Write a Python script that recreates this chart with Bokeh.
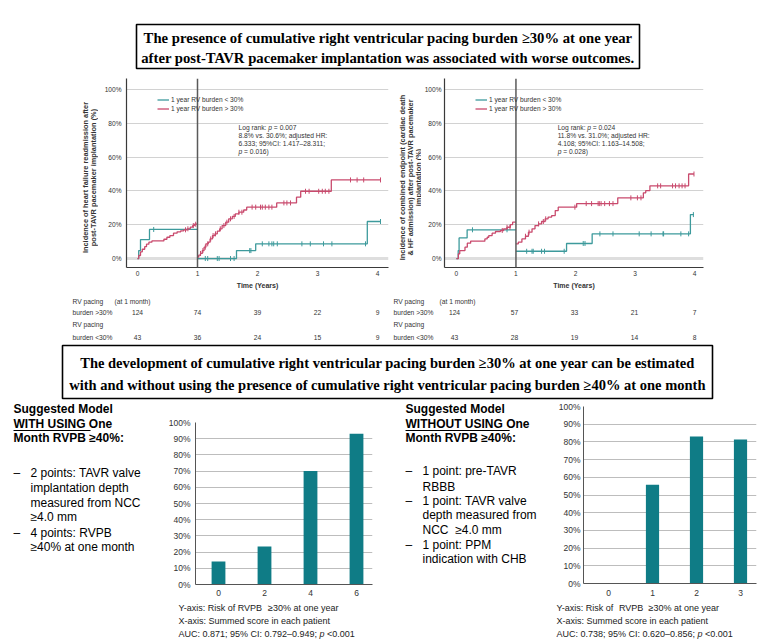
import numpy as np
from bokeh.plotting import figure
from bokeh.layouts import column, row
from bokeh.models import Range1d, Span, Legend, LegendItem, PrintfTickFormatter, FixedTicker
from bokeh.core.properties import value
from bokeh.embed import file_html
from bokeh.resources import INLINE

# ---------------- data ----------------
# Kaplan-Meier: heart failure readmission (left panel)
hf_lo1_t = [0.0, 0.02, 0.05, 0.20]
hf_lo1_v = [0.0, 4.7, 11.2, 17.2]
hf_lo1_c = [0.27]
hf_hi1_t = [0.0, 0.02, 0.05, 0.08, 0.12, 0.15, 0.19, 0.24, 0.44, 0.49, 0.54, 0.60, 0.66, 0.72, 0.77, 0.83, 0.88, 0.92, 0.95]
hf_hi1_v = [0.0, 1.8, 4.0, 5.5, 7.0, 8.5, 9.7, 10.4, 11.4, 12.6, 13.6, 15.0, 15.8, 16.4, 17.0, 17.6, 18.6, 19.5, 20.3]
hf_hi1_c = [0.80, 0.84, 0.93, 0.97]
hf_lo2_t = [1.0, 1.65, 1.97, 3.83]
hf_lo2_v = [0.0, 4.7, 8.7, 21.9]
hf_lo2_c = [1.13, 1.17, 1.33, 1.36, 1.55, 1.61, 1.87, 1.89, 2.08, 2.19, 2.24, 2.27, 2.33, 2.74, 2.88, 3.10, 3.24, 3.80, 4.05]
hf_hi2_t = [1.0, 1.02, 1.05, 1.08, 1.11, 1.14, 1.18, 1.21, 1.25, 1.29, 1.33, 1.37, 1.41, 1.47, 1.52, 1.58, 1.63, 1.69, 1.77, 1.82, 2.32, 2.65, 2.72, 3.23]
hf_hi2_v = [0.8, 2.0, 3.0, 4.7, 6.7, 8.7, 9.7, 11.6, 13.6, 14.6, 16.2, 17.6, 19.5, 21.5, 23.5, 24.9, 26.4, 27.4, 28.7, 30.4, 32.9, 36.3, 39.8, 46.5]
hf_hi2_c = [1.05, 1.09, 1.13, 1.17, 1.22, 1.26, 1.30, 1.38, 1.44, 1.49, 1.55, 1.61, 1.69, 1.74, 1.91, 1.97, 2.05, 2.08, 2.13, 2.19, 2.24, 2.44, 2.49, 2.55, 2.80, 2.86, 3.02, 3.08, 3.13, 3.19, 3.55, 3.66, 3.77, 4.05]
hf_end = [1.0, 4.05]

# Kaplan-Meier: combined endpoint (right panel)
ce_lo1_t = [0.0, 0.03, 0.045, 0.18]
ce_lo1_v = [0.0, 4.7, 12.2, 17.0]
ce_lo1_c = [0.27, 0.85]
ce_hi1_t = [0.0, 0.033, 0.056, 0.144, 0.183, 0.239, 0.478, 0.517, 0.544, 0.60, 0.656, 0.739, 0.794, 0.85, 0.906, 0.944]
ce_hi1_v = [0.0, 2.8, 4.7, 6.7, 9.1, 10.3, 11.6, 12.6, 13.6, 15.0, 16.0, 16.6, 17.6, 18.5, 20.1, 21.5]
ce_hi1_c = [0.77, 0.85, 0.90]
ce_lo2_t = [1.0, 1.85, 2.28, 3.93]
ce_lo2_v = [4.3, 8.9, 14.6, 26.0]
ce_lo2_c = [1.18, 1.27, 1.29, 1.43, 1.48, 1.81, 2.13, 2.16, 2.41, 2.63, 3.07, 3.27, 3.47, 3.48, 3.77, 3.90, 3.98]
ce_hi2_t = [1.0, 1.04, 1.10, 1.16, 1.21, 1.27, 1.32, 1.38, 1.43, 1.49, 1.54, 1.60, 1.66, 1.71, 2.02, 2.71, 3.14, 3.18, 3.25, 3.90]
ce_hi2_v = [8.7, 9.7, 11.6, 13.2, 15.6, 17.6, 19.5, 20.5, 21.9, 23.5, 24.5, 25.4, 28.4, 30.4, 32.5, 35.9, 38.9, 40.2, 43.0, 50.0]
ce_hi2_c = [1.16, 1.22, 1.38, 1.46, 1.50, 1.99, 2.18, 2.27, 2.38, 2.40, 2.43, 2.49, 2.57, 2.63, 2.93, 3.04, 3.10, 3.38, 3.43, 3.63, 3.68, 3.74, 3.79, 3.84, 3.99]
ce_end = [1.0, 3.99]

km_years = [0, 1, 2, 3, 4]
km_yticks = [0, 20, 40, 60, 80, 100]
legend_labels = ["1 year RV burden < 30%", "1 year RV burden > 30%"]

# numbers at risk
hf_risk_hi = [124, 74, 39, 22, 9]
hf_risk_lo = [43, 36, 24, 15, 9]
ce_risk_hi = [124, 57, 33, 21, 7]
ce_risk_lo = [43, 28, 19, 14, 8]

# risk-score bar charts
scoreA = [0, 2, 4, 6]
riskA = [14.2, 23.5, 70.0, 93.0]
scoreB = [0, 1, 2, 3]
riskB = [0.0, 55.8, 83.0, 81.4]
bar_yticks = [0, 10, 20, 30, 40, 50, 60, 70, 80, 90, 100]

# ---------------- style ----------------
TEAL = "#3d9a9c"
RED = "#c94a6d"
BAR = "#0f7c86"
SANS = "Liberation Sans"
SERIF = "Liberation Serif"
TXT = "#222222"

W = {' ': .278, '!': .278, '%': .889, '(': .333, ')': .333, ',': .278, '-': .333, '.': .278,
     '/': .278, ':': .278, ';': .278, '<': .584, '=': .584, '>': .584, '\u2265': .549, '\u2013': .556,
     'A': .667, 'B': .667, 'C': .722, 'D': .722, 'E': .667, 'F': .611, 'G': .778, 'H': .722, 'I': .278,
     'J': .5, 'K': .667, 'L': .556, 'M': .833, 'N': .722, 'O': .778, 'P': .667, 'Q': .778, 'R': .722,
     'S': .667, 'T': .611, 'U': .722, 'V': .667, 'W': .944, 'X': .667, 'Y': .667, 'Z': .611,
     'a': .556, 'b': .556, 'c': .5, 'd': .556, 'e': .556, 'f': .278, 'g': .556, 'h': .556, 'i': .222,
     'j': .222, 'k': .5, 'l': .222, 'm': .833, 'n': .556, 'o': .556, 'p': .556, 'q': .556, 'r': .333,
     's': .5, 't': .278, 'u': .556, 'v': .5, 'w': .722, 'x': .5, 'y': .5, 'z': .5}


def tw(s, size, style="normal"):
    f = 1.07 if "bold" in style else 1.0
    return sum(W.get(ch, .556) for ch in s) * size * f


def txt(p, x, y, s, size, style="normal", font=SANS, align="left", color=TXT, angle=0.0):
    p.text(x=[x], y=[y], text=[s], text_font=value(font), text_font_size=f"{size}px",
           text_font_style=style, text_align=align, text_baseline="middle",
           text_color=color, angle=angle)


def rich(p, x, y, parts, size, unit=1.0, color=TXT):
    # draws runs of differently styled text one after another; leading blanks are
    # turned into an offset because SVG text drops them
    cx = x
    for s, style in parts:
        lead = len(s) - len(s.lstrip(" "))
        txt(p, cx + tw(s[:lead], size, style) / unit, y, s.strip(" "), size, style, color=color)
        cx += tw(s, size, style) / unit


def canvas(x0, y0, w, h):
    p = figure(width=w, height=h, x_range=Range1d(x0, x0 + w), y_range=Range1d(-(y0 + h), -y0),
               min_border=0, output_backend="svg", toolbar_location=None,
               x_axis_location=None, y_axis_location=None)
    p.grid.visible = False
    p.outline_line_color = None
    return p


def step_xy(t, v, end):
    return list(t) + [end], list(v) + [v[-1]]


def censor_y(t, v, c):
    idx = np.searchsorted(np.asarray(t), np.asarray(c), side="right") - 1
    return list(np.asarray(v)[idx])


def km_figure(w, mbl, mbr, x0, x1, lo1, hi1, lo2, hi2, ends, ann_x, ann_lines, label_standoff):
    p = figure(width=w, height=216, x_range=Range1d(x0, x1), y_range=Range1d(-5.3, 106.5),
               min_border_left=mbl, min_border_right=mbr, min_border_top=2, min_border_bottom=25,
               output_backend="svg", toolbar_location=None)
    p.outline_line_color = None
    p.xgrid.visible = False
    p.ygrid.ticker = FixedTicker(ticks=km_yticks[1:])
    p.ygrid.grid_line_color = "#d2d2d2"
    p.add_layout(Span(location=0, dimension="width", line_color="#dedede", line_width=3, level="underlay"))
    p.add_layout(Span(location=1, dimension="height", line_color="#5a5a5a", line_width=1.5))
    p.xaxis.ticker = FixedTicker(ticks=km_years)
    p.yaxis.ticker = FixedTicker(ticks=km_yticks)
    p.yaxis.formatter = PrintfTickFormatter(format="%d%%")
    for ax in (p.xaxis[0], p.yaxis[0]):
        ax.axis_line_color = "#3a3a3a"
        ax.axis_line_width = 1.2
        ax.major_tick_line_color = None
        ax.minor_tick_line_color = None
        ax.major_tick_out = 0
        ax.major_tick_in = 0
        ax.minor_tick_out = 0
        ax.major_label_text_font = SANS
        ax.major_label_text_font_size = "6.6px"
        ax.major_label_text_color = "#333333"
    p.xaxis.major_label_standoff = 3
    p.yaxis.major_label_standoff = label_standoff
    p.xaxis.axis_label = "Time (Years)"
    p.xaxis.axis_label_text_font = SANS
    p.xaxis.axis_label_text_font_size = "7px"
    p.xaxis.axis_label_text_font_style = "bold"
    p.xaxis.axis_label_text_color = "#333333"
    p.xaxis.axis_label_standoff = 3

    rends = {}
    for key, (t, v, c), end, color in (("lo1", lo1, ends[0], TEAL), ("hi1", hi1, ends[0], RED),
                                       ("lo2", lo2, ends[1], TEAL), ("hi2", hi2, ends[1], RED)):
        xs, ys = step_xy(t, v, end)
        rends[key] = p.step(xs, ys, mode="after", line_color=color, line_width=1.3)
        p.scatter(c, censor_y(t, v, c), marker="dash", angle=np.pi / 2, size=5,
                  line_color=color, line_width=1)

    leg = Legend(items=[LegendItem(label=legend_labels[0], renderers=[rends["lo1"]]),
                        LegendItem(label=legend_labels[1], renderers=[rends["hi1"]])],
                 location=(31, 154), label_text_font=SANS, label_text_font_size="6.6px",
                 label_text_color="#333333", glyph_width=12, glyph_height=9, label_height=9,
                 label_standoff=2, spacing=0, padding=0, margin=0, border_line_color=None,
                 background_fill_alpha=0)
    p.add_layout(leg)

    for yv, parts in zip([77.5, 72.8, 68.0, 63.3], ann_lines):
        rich(p, ann_x, yv, parts, 6.7, unit=60.0, color="#333333")
    return p


def risk_figure(w, x0, hi, lo, lab_x, month_x):
    p = figure(width=w, height=50, x_range=Range1d(x0, x0 + w / 60.0), y_range=Range1d(-342, -292),
               min_border=0, output_backend="svg", toolbar_location=None,
               x_axis_location=None, y_axis_location=None)
    p.grid.visible = False
    p.outline_line_color = None
    size = 6.7
    txt(p, lab_x, -301, "RV pacing", size, color="#333333")
    txt(p, month_x, -301, "(at 1 month)", size, color="#333333")
    txt(p, lab_x, -312, "burden >30%", size, color="#333333")
    txt(p, lab_x, -324, "RV pacing", size, color="#333333")
    txt(p, lab_x, -337, "burden <30%", size, color="#333333")
    p.text(x=km_years, y=[-312] * len(km_years), text=[str(n) for n in hi], text_font=value(SANS),
           text_font_size=f"{size}px", text_align="center", text_baseline="middle", text_color="#333333")
    p.text(x=km_years, y=[-337] * len(km_years), text=[str(n) for n in lo], text_font=value(SANS),
           text_font_size=f"{size}px", text_align="center", text_baseline="middle", text_color="#333333")
    return p


def bar_figure(w, x0, x1, mbl, mbr, mbt, mbb, scores, risks, bw, sx, sy):
    p = figure(width=w, height=200, x_range=Range1d(x0, x1), y_range=Range1d(0, 100),
               min_border_left=mbl, min_border_right=mbr, min_border_top=mbt, min_border_bottom=mbb,
               output_backend="svg", toolbar_location=None)
    p.outline_line_color = None
    p.xgrid.visible = False
    p.ygrid.ticker = FixedTicker(ticks=bar_yticks)
    p.ygrid.grid_line_color = "#bdbdbd"
    p.vbar(x=scores, top=risks, width=bw, fill_color=BAR, line_color=None)
    p.xaxis.ticker = FixedTicker(ticks=scores)
    p.yaxis.ticker = FixedTicker(ticks=bar_yticks)
    p.yaxis.formatter = PrintfTickFormatter(format="%d%%")
    for ax in (p.xaxis[0], p.yaxis[0]):
        ax.axis_line_color = "#555555"
        ax.major_tick_line_color = None
        ax.minor_tick_line_color = None
        ax.major_tick_out = 0
        ax.major_tick_in = 0
        ax.minor_tick_out = 0
        ax.major_label_text_font = SANS
        ax.major_label_text_font_size = "8.5px"
        ax.major_label_text_color = "#333333"
    p.xaxis.major_label_standoff = sx
    p.yaxis.major_label_standoff = sy
    return p


# ---------------- title box 1 ----------------
t1 = canvas(0, 0, 775, 76)
t1.quad(left=[136], right=[639], top=[-24], bottom=[-68], fill_color=None, line_color="black", line_width=1.6)
txt(t1, 387.5, -37, "The presence of cumulative right ventricular pacing burden \u226530% at one year",
    14.7, "bold", SERIF, "center", "black")
txt(t1, 387.5, -57, "after post-TAVR pacemaker implantation was associated with worse outcomes.",
    14.7, "bold", SERIF, "center", "black")

# ---------------- KM row ----------------
ylL = canvas(0, 76, 98, 216)
txt(ylL, 85, -177, "Incidence of heart failure readmission after", 7.4, "bold", align="center",
    color="#333333", angle=np.pi / 2)
txt(ylL, 93, -177, "post-TAVR pacemaker implantation (%)", 7.4, "bold", align="center",
    color="#333333", angle=np.pi / 2)

kmL = km_figure(294, 28, 4, -11 / 60.0, 251 / 60.0,
                (hf_lo1_t, hf_lo1_v, hf_lo1_c), (hf_hi1_t, hf_hi1_v, hf_hi1_c),
                (hf_lo2_t, hf_lo2_v, hf_lo2_c), (hf_hi2_t, hf_hi2_v, hf_hi2_c), hf_end, 1.683,
                [[("Log rank: ", "normal"), ("p", "italic"), (" = 0.007", "normal")],
                 [("8.8% vs. 30.6%; adjusted HR:", "normal")],
                 [("6.333; 95%CI: 1.417\u201328.311;", "normal")],
                 [("p", "italic"), (" = 0.016)", "normal")]], 5)

ylR = canvas(392, 76, 29, 216)
for xx, s in zip([401.5, 409.5, 417.5], ["Incidence of combined endpoint (cardiac death",
                                          "& HF admission) after post-TAVR pacemaker",
                                          "implantation (%)"]):
    txt(ylR, xx, -177, s, 7.4, "bold", align="center", color="#333333", angle=np.pi / 2)

kmR = km_figure(354, 21, 72, -0.2, 4.15,
                (ce_lo1_t, ce_lo1_v, ce_lo1_c), (ce_hi1_t, ce_hi1_v, ce_hi1_c),
                (ce_lo2_t, ce_lo2_v, ce_lo2_c), (ce_hi2_t, ce_hi2_v, ce_hi2_c), ce_end, 1.70,
                [[("Log rank: ", "normal"), ("p", "italic"), (" = 0.024", "normal")],
                 [("11.8% vs. 31.0%; adjusted HR:", "normal")],
                 [("4.108; 95%CI: 1.163\u201314.508;", "normal")],
                 [("p", "italic"), (" = 0.028)", "normal")]], 3)

# ---------------- risk tables ----------------
rkL = risk_figure(392, -137 / 60.0, hf_risk_hi, hf_risk_lo, -65 / 60.0, -23 / 60.0)
rkR = risk_figure(383, -62 / 60.0, ce_risk_hi, ce_risk_lo, -61 / 60.0, -15 / 60.0)

# ---------------- title box 2 ----------------
t2 = canvas(0, 342, 775, 58)
t2.quad(left=[62], right=[712], top=[-345], bottom=[-398], fill_color=None, line_color="black", line_width=1.6)
txt(t2, 387, -362, "The development of cumulative right ventricular pacing burden \u226530% at one year can be estimated",
    14.5, "bold", SERIF, "center", "black")
txt(t2, 387, -384, "with and without using the presence of cumulative right ventricular pacing burden \u226540% at one month",
    14.5, "bold", SERIF, "center", "black")

# ---------------- bottom left text ----------------
tl = canvas(0, 400, 160, 200)
for s, yy in (("Suggested Model", 408), ("WITH USING One", 423), ("Month RVPB \u226540%:", 437)):
    txt(tl, 13, -yy, s, 12, "bold", color="black")
tl.line([13, 13 + tw("WITH USING", 12, "bold")], [-430, -430], line_color="black", line_width=1)
for yy in (472, 532):
    txt(tl, 13, -yy, "\u2013", 12, color="black")
for s, yy in (("2 points: TAVR valve", 472), ("implantation depth", 487), ("measured from NCC", 502),
              ("\u22654.0 mm", 516), ("4 points: RVPB", 532), ("\u226540% at one month", 546)):
    txt(tl, 30, -yy, s, 12, color="black")

# ---------------- bottom right text ----------------
tr = canvas(385, 400, 155, 200)
for s, yy in (("Suggested Model", 408), ("WITHOUT USING One", 423), ("Month RVPB \u226540%:", 437)):
    txt(tr, 405, -yy, s, 12, "bold", color="black")
tr.line([405, 405 + tw("WITHOUT USING", 12, "bold")], [-430, -430], line_color="black", line_width=1)
for yy in (470, 500, 544):
    txt(tr, 405, -yy, "\u2013", 12, color="black")
for s, yy in (("1 point: pre-TAVR", 470), ("RBBB", 486), ("1 point: TAVR valve", 500),
              ("depth measured from", 514), ("1 point: PPM", 544), ("indication with CHB", 558)):
    txt(tr, 422, -yy, s, 12, color="black")
rich(tr, 422, -529, [("NCC", "normal"), ("  \u22654.0 mm", "normal")], 12, color="black")

# ---------------- bar charts ----------------
barL = bar_figure(225, -1.0, 154 / 23.0, 35, 13, 22, 16, scoreA, riskA, 0.6, 5, 5)
barR = bar_figure(235, -25 / 44.0, 148 / 44.0, 43, 19, 6, 17, scoreB, riskB, 0.3, 6, 3)

# ---------------- captions under the bar charts ----------------
cap = canvas(0, 600, 775, 40)
rich(cap, 178, -607, [("Y-axis: Risk of RVPB", "normal"), ("  \u226530% at one year", "normal")], 9)
txt(cap, 178, -620, "X-axis: Summed score in each patient", 9)
rich(cap, 178, -633, [("AUC: 0.871; 95% CI: 0.792\u20130.949; ", "normal"), ("p", "italic"),
                      (" <0.001", "normal")], 9)
rich(cap, 556, -607, [("Y-axis: Risk of", "normal"), ("  RVPB", "normal"),
                      ("  \u226530% at one year", "normal")], 9)
txt(cap, 556, -620, "X-axis: Summed score in each patient", 9)
rich(cap, 556, -633, [("AUC: 0.738; 95% CI: 0.620\u20130.856; ", "normal"), ("p", "italic"),
                      (" <0.001", "normal")], 9)

# each figure is wrapped in its own column so that the row does not align plot frames
layout = column(
    t1,
    row(column(ylL), column(kmL), column(ylR), column(kmR)),
    row(column(rkL), column(rkR)),
    t2,
    row(column(tl), column(barL), column(tr), column(barR)),
    cap,
)

open("out.html", "w").write(file_html(layout, INLINE))
